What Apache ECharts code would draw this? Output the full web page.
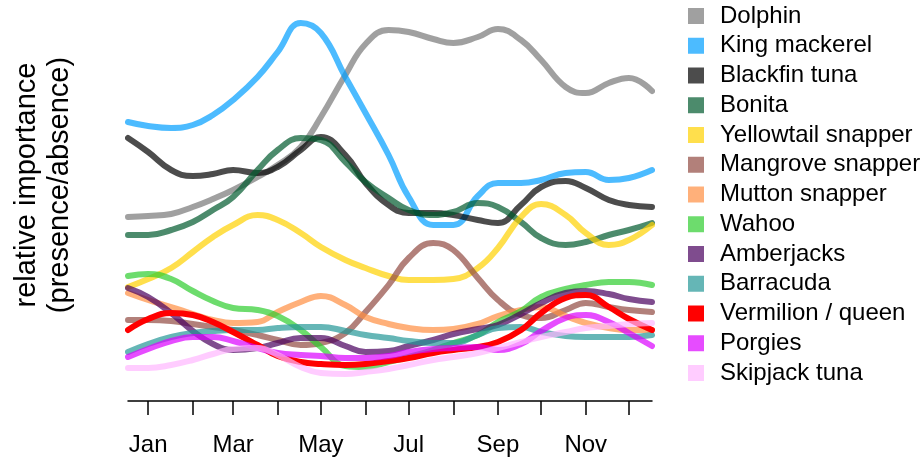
<!DOCTYPE html>
<html lang="en">
<head>
    <meta charset="UTF-8">
    <title>index</title>
    <script src="https://cdn.jsdelivr.net/npm/echarts@6/dist/echarts.min.js"></script>
    <style>
        html, body { margin: 0; padding: 0; background: #fff; }
        #main { width: 922px; height: 460px; }
    </style>
</head>
<body>
<div id="main"></div>
<script>
    // day of year for each sample
    var days = [1, 15, 31, 46, 60, 74, 91, 105, 121, 135, 152, 166, 182, 196, 213, 227, 244, 258, 274, 288, 305, 319, 335, 349, 365];

    // month ticks (15th of each month) and labels
    var tickDays = [15, 46, 74, 105, 135, 166, 196, 227, 258, 288, 319, 349];
    var labelDays = [15, 74, 135, 196, 258, 319];
    var monthNames = ['Jan', 'Feb', 'Mar', 'Apr', 'May', 'Jun', 'Jul', 'Aug', 'Sep', 'Oct', 'Nov', 'Dec'];

    var names = ['Dolphin', 'King mackerel', 'Blackfin tuna', 'Bonita', 'Yellowtail snapper', 'Mangrove snapper',
        'Mutton snapper', 'Wahoo', 'Amberjacks', 'Barracuda', 'Vermilion / queen', 'Porgies', 'Skipjack tuna'];

    var colors = ['rgba(119,119,119,0.7)', 'rgba(0,158,255,0.7)', 'rgba(0,0,0,0.7)', 'rgba(0,90,45,0.7)',
        'rgba(255,210,0,0.7)', 'rgba(146,74,65,0.7)', 'rgba(255,142,65,0.7)', 'rgba(47,205,47,0.7)',
        'rgba(72,0,94,0.7)', 'rgba(36,151,151,0.7)', '#ff0000', 'rgba(219,0,255,0.7)', 'rgba(255,182,255,0.7)'];

    // relative importance (arbitrary units)
    var dolphin = [184, 185, 187, 194, 202, 211, 224, 236, 254, 284, 326, 357, 371, 369, 362, 358, 364, 372, 361, 341, 314, 308, 318, 323, 310];
    var kingMackerel = [279, 275, 273, 276, 286, 301, 324, 349, 378, 368, 324, 288, 246, 204, 176, 176, 205, 218, 218, 221, 228, 229, 221, 223, 231];
    var blackfinTuna = [263, 249, 231, 225, 227, 231, 228, 234, 251, 264, 246, 218, 196, 188, 188, 186, 181, 178, 196, 214, 220, 213, 201, 196, 194];
    var bonita = [166, 166, 171, 179, 191, 204, 231, 251, 263, 261, 239, 219, 203, 191, 186, 189, 198, 194, 179, 163, 156, 159, 166, 171, 178];
    var yellowtail = [114, 122, 133, 149, 164, 176, 186, 181, 168, 154, 141, 133, 125, 121, 121, 122, 133, 153, 184, 197, 186, 168, 156, 161, 176];
    var mangrove = [81, 81, 80, 77, 74, 71, 66, 61, 56, 58, 68, 89, 116, 143, 158, 151, 123, 101, 86, 83, 91, 98, 94, 91, 89];
    var mutton = [108, 101, 94, 87, 81, 78, 79, 89, 99, 105, 96, 84, 77, 73, 71, 72, 77, 85, 91, 94, 85, 78, 73, 71, 71];
    var wahoo = [125, 127, 122, 110, 100, 93, 91, 85, 71, 54, 35, 34, 39, 44, 51, 58, 66, 79, 90, 104, 112, 116, 119, 119, 116];
    var amberjacks = [113, 104, 88, 70, 57, 51, 53, 58, 63, 63, 55, 49, 50, 55, 61, 67, 72, 76, 87, 98, 108, 110, 107, 102, 99];
    var barracuda = [49, 57, 64, 68, 70, 71, 71, 73, 74, 74, 70, 66, 63, 60, 58, 58, 66, 73, 74, 69, 65, 64, 64, 64, 66];
    var vermilion = [71, 82, 88, 86, 79, 69, 56, 45, 39, 37, 36, 37, 40, 43, 48, 51, 54, 59, 71, 88, 103, 106, 94, 82, 71];
    var porgies = [44, 52, 60, 64, 64, 60, 53, 48, 46, 45, 43, 43, 45, 49, 52, 53, 54, 51, 57, 70, 83, 86, 79, 68, 55];
    var skipjack = [33, 33, 36, 41, 47, 52, 53, 46, 34, 28, 27, 29, 32, 36, 41, 44, 48, 53, 59, 64, 69, 73, 75, 77, 78];

    var values = [dolphin, kingMackerel, blackfinTuna, bonita, yellowtail, mangrove, mutton, wahoo,
        amberjacks, barracuda, vermilion, porgies, skipjack];

    var font = '"Liberation Sans", Arial, sans-serif';
    var my_Chart = echarts.init(document.getElementById('main'));

    var series = [];
    for (var i = 0; i < names.length; i++) {
        var pts = [];
        for (var j = 0; j < days.length; j++) {
            pts.push([days[j], values[i][j]]);
        }
        series.push({
            name: names[i],
            type: 'line',
            smooth: 0.45,
            showSymbol: false,
            data: pts,
            itemStyle: { color: colors[i] },
            lineStyle: { width: 6, color: colors[i], cap: 'round' }
        });
    }

    var option = {
        animation: false,
        backgroundColor: '#fff',
        grid: { left: 128, right: 270, top: 1, bottom: 59 },
        legend: {
            orient: 'vertical',
            left: 688,
            top: 4,
            padding: 0,
            icon: 'rect',
            itemWidth: 16,
            itemHeight: 16,
            itemGap: 5.75,
            data: names,
            textStyle: { fontFamily: font, fontSize: 24, color: '#000', lineHeight: 24, padding: [0, 0, 0, 11] }
        },
        xAxis: {
            type: 'value',
            min: 1,
            max: 365,
            splitLine: { show: false },
            axisLine: { show: true, lineStyle: { color: '#000', width: 1.5 } },
            axisTick: { show: true, length: 14, customValues: tickDays, lineStyle: { color: '#000', width: 1.5 } },
            axisLabel: {
                customValues: labelDays,
                margin: 32,
                fontFamily: font,
                fontSize: 24,
                color: '#000',
                formatter: function (v) {
                    return monthNames[tickDays.indexOf(v)];
                }
            }
        },
        yAxis: {
            type: 'value',
            min: 0,
            max: 400,
            show: false
        },
        // rotated y axis title
        graphic: [{
            type: 'text',
            x: 43,
            y: 185,
            rotation: Math.PI / 2,
            style: {
                text: 'relative importance\n(presence/absence)',
                fontFamily: font,
                fontSize: 29,
                lineHeight: 33,
                fill: '#000',
                align: 'center',
                verticalAlign: 'middle'
            }
        }],
        series: series
    };
    my_Chart.setOption(option);
</script>
</body>
</html>
